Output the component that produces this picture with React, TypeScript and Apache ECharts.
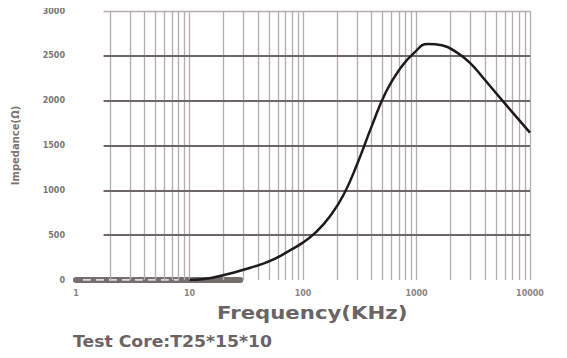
import React, { useEffect, useRef } from "react";
import * as echarts from "echarts";

// Impedance vs. frequency curve (kHz, ohms)
const freqKHz = [10, 13.4, 17.8, 23.7, 31.5, 42, 55.6, 73.5, 98.1, 130, 173, 229, 304, 405, 539, 716, 952, 1265, 1675, 2227, 2956, 3925, 5206, 6917, 10000];
const impedance = [0, 11, 39, 78, 122, 172, 233, 317, 411, 533, 711, 956, 1311, 1722, 2100, 2356, 2533, 2633, 2617, 2544, 2422, 2244, 2061, 1878, 1644];

// grey baseline band at zero
const baseBandFreq = [1, 28];
const baseDashFreq = [1.15, 8];

const yTicks = [0, 500, 1000, 1500, 2000, 2500, 3000];
const decades = [1, 10, 100, 1000];
const minorSteps = [2, 3, 4, 5, 6, 7, 8, 9];

const xAxisName = "Frequency(KHz)";
const yAxisName = "Impedance(Ω)";
const footNote = "Test Core:T25*15*10";

export default function App() {
  const ref = useRef<HTMLDivElement>(null);

  useEffect(() => {
    if (!ref.current) return;
    const chart = echarts.init(ref.current, undefined, { renderer: "svg" });

    const verticalLines: number[] = [];
    decades.forEach((d) => {
      minorSteps.forEach((k) => verticalLines.push(k * d));
      if (d > 1) verticalLines.push(d);
    });
    verticalLines.push(10000);

    const hLines = yTicks.filter((v) => v > 0);

    chart.setOption({
      animation: false,
      backgroundColor: "#ffffff",
      grid: { left: 76, right: 37, top: 11, bottom: 78 },
      xAxis: {
        type: "log",
        logBase: 10,
        min: 1,
        max: 10000,
        axisLine: { show: false },
        axisTick: { show: false },
        splitLine: { show: false },
        axisLabel: {
          fontSize: 8,
          fontWeight: "bold",
          color: "#8a8484",
          margin: 9,
          fontFamily: "DejaVu Sans",
          formatter: (v: number) => String(Math.round(v)),
        },
      },
      yAxis: {
        type: "value",
        min: 0,
        max: 3000,
        interval: 500,
        name: yAxisName,
        nameLocation: "middle",
        nameGap: 56,
        nameTextStyle: {
          fontSize: 10,
          fontWeight: "bold",
          color: "#7a7474",
          fontFamily: "DejaVu Sans",
        },
        axisLine: { show: false },
        axisTick: { show: false },
        splitLine: { show: false },
        axisLabel: {
          fontSize: 8,
          fontWeight: "bold",
          color: "#7a7474",
          margin: 11,
          fontFamily: "DejaVu Sans",
          formatter: (v: number) => String(v),
        },
      },
      series: [
        {
          type: "line",
          data: [],
          silent: true,
          markLine: {
            silent: true,
            symbol: ["none", "none"],
            label: { show: false },
            lineStyle: { color: "#b5adad", width: 1.3, type: "solid" },
            data: verticalLines.map((v) => ({ xAxis: v })),
          },
        },
        {
          type: "line",
          data: [],
          silent: true,
          markLine: {
            silent: true,
            symbol: ["none", "none"],
            label: { show: false },
            data: hLines.map((v) => [
              {
                coord: [1.75, v],
                lineStyle: {
                  color: v === 3000 ? "#b5adad" : "#6e6767",
                  width: v === 3000 ? 1.3 : 1.8,
                  type: "solid",
                },
              },
              { coord: [10000, v] },
            ]),
          },
        },
        {
          type: "line",
          data: baseBandFreq.map((f) => [f, 0]),
          symbol: "none",
          silent: true,
          lineStyle: { color: "#766d6d", width: 6, cap: "round" },
          z: 3,
        },
        {
          type: "line",
          data: baseDashFreq.map((f) => [f, 0]),
          symbol: "none",
          silent: true,
          lineStyle: { color: "#ffffff", width: 1.5, type: [8, 5] },
          z: 4,
        },
        {
          type: "line",
          data: freqKHz.map((f, i) => [f, impedance[i]]),
          symbol: "none",
          smooth: 0.5,
          silent: true,
          lineStyle: { color: "#1c1a1a", width: 2.5 },
          z: 5,
        },
      ],
      graphic: [
        {
          type: "text",
          left: 217,
          top: 305,
          scaleX: 1.25,
          style: {
            text: xAxisName,
            fontSize: 17,
            fontWeight: "bold",
            fill: "#6a6464",
            fontFamily: "DejaVu Sans",
          },
        },
        {
          type: "text",
          left: 73,
          top: 334,
          scaleX: 1.15,
          style: {
            text: footNote,
            fontSize: 15,
            fontWeight: "bold",
            fill: "#6a6464",
            fontFamily: "DejaVu Sans",
          },
        },
      ],
    });

    return () => chart.dispose();
  }, []);

  return <div ref={ref} style={{ width: 567, height: 358, margin: -8 }} />;
}
